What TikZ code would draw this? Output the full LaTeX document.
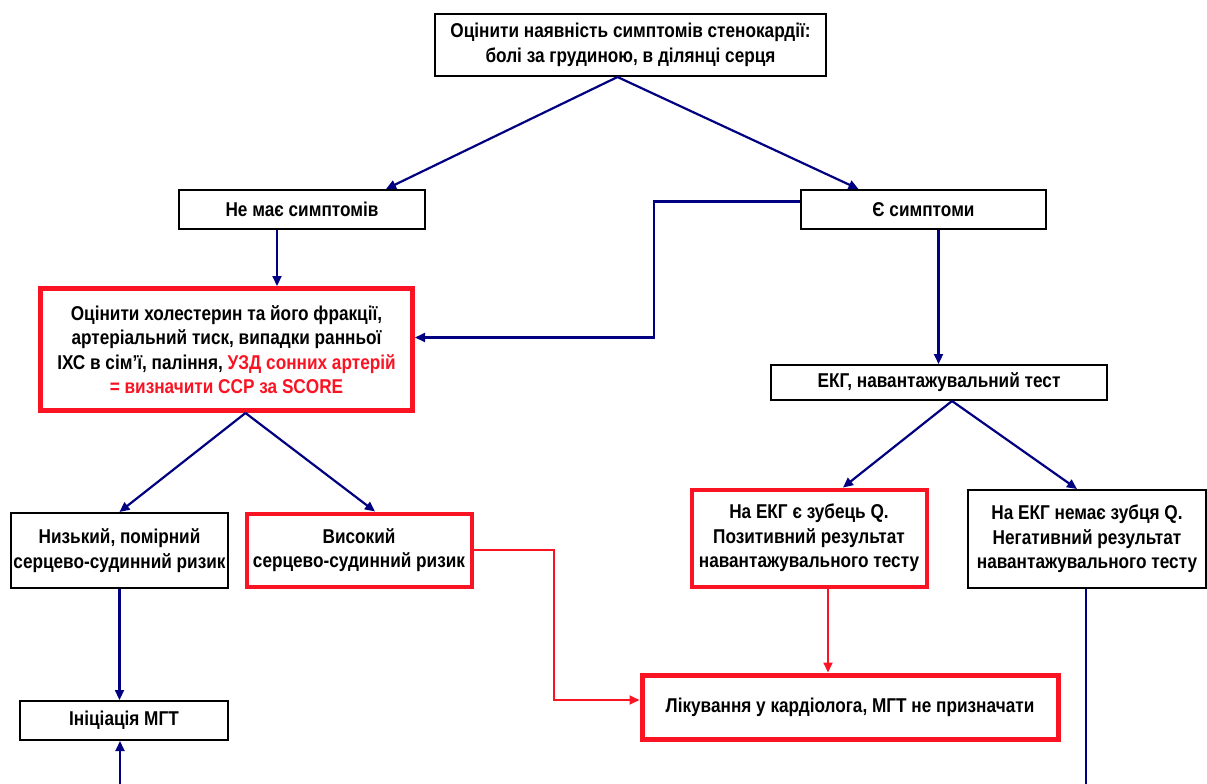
\documentclass[tikz,border=0pt]{standalone}
\usepackage{fontspec}
\setmainfont{Liberation Sans}[FakeStretch=0.86]
\usetikzlibrary{arrows.meta,calc}
\definecolor{navy}{RGB}{0,0,128}
\definecolor{myred}{RGB}{250,20,35}
\tikzset{
  box/.style={draw=black,line width=2pt,fill=white,align=center,inner sep=0pt,
    font=\fontsize{20}{24.5}\selectfont\bfseries},
  redbox/.style={box,draw=myred,line width=5pt},
  redbox2/.style={box,draw=myred,line width=4pt},
  arr/.style={draw=navy,line width=2.2pt,-{Triangle[length=10pt,width=9pt]}},
  ln/.style={draw=navy,line width=2.2pt},
  rarr/.style={draw=myred,line width=2pt,-{Triangle[length=10pt,width=9pt]}},
}
\begin{document}
\begin{tikzpicture}[x=1pt,y=-1pt]
\useasboundingbox (0,0) rectangle (1207,784);
\node[box,minimum width=391pt,minimum height=62pt] (top) at (630.5,45) {Оцінити наявність симптомів стенокардії:\\болі за грудиною, в ділянці серця};
\node[box,minimum width=246pt,minimum height=39pt] (no) at (302,209.5) {Не має симптомів};
\node[box,minimum width=245pt,minimum height=39pt] (sym) at (923.5,209.5) {Є симптоми};
\node[redbox,minimum width=372pt,minimum height=122pt] (risk) at (226.5,349.5) {Оцінити холестерин та його фракції,\\артеріальний тиск, випадки ранньої\\ІХС в сім’ї, паління, \textcolor{myred}{УЗД сонних артерій}\\\textcolor{myred}{= визначити ССР за SCORE}};
\node[box,minimum width=336pt,minimum height=35pt] (ekg) at (939,382.5) {ЕКГ, навантажувальний тест};
\node[box,minimum width=217pt,minimum height=75pt] (low) at (119.5,550.5) {Низький, помірний\\серцево-судинний ризик};
\node[redbox2,minimum width=225pt,minimum height=73pt] (high) at (359,550) {Високий\\серцево-судинний ризик};
\node[redbox2,minimum width=235pt,minimum height=97pt] (posq) at (809,538) {На ЕКГ є зубець Q.\\Позитивний результат\\навантажувального тесту};
\node[box,minimum width=238pt,minimum height=98pt] (negq) at (1087,539) {На ЕКГ немає зубця Q.\\Негативний результат\\навантажувального тесту};
\node[redbox,minimum width=416pt,minimum height=64pt] (treat) at (850,707) {Лікування у кардіолога, МГТ не призначати};
\node[box,minimum width=208pt,minimum height=39pt] (init) at (124,720.5) {Ініціація МГТ};
\coordinate (bl) at (120,784);
\coordinate (br) at (1086,784);
% connectors
\draw[arr] ([xshift=-13pt]top.south) -- ([xshift=84pt]no.north);
\draw[arr] ([xshift=-13pt]top.south) -- ([xshift=-65pt]sym.north);
\draw[arr] ([xshift=-25pt]no.south) -- ([xshift=-25pt]no.south |- risk.north);
\draw[arr] ([yshift=8pt]sym.west) -- ++(-146pt,0) |- ([yshift=12pt]risk.east);
\draw[arr] ([xshift=15pt]sym.south) -- ([xshift=15pt]sym.south |- ekg.north);
\draw[arr] ([xshift=19pt]risk.south) -- (low.north);
\draw[arr] ([xshift=19pt]risk.south) -- ([xshift=16pt]high.north);
\draw[arr] ([xshift=13pt]ekg.south) -- ([xshift=34pt]posq.north);
\draw[arr] ([xshift=13pt]ekg.south) -- ([xshift=-10pt]negq.north);
\draw[arr] (low.south) -- (low.south |- init.north);
\draw[arr] (bl) -- (bl |- init.south);
\draw[ln] ([xshift=-1pt]negq.south) -- (br);
\draw[rarr] (high.east) -- ++(80pt,0) |- ([yshift=7pt]treat.west);
\draw[rarr] ([xshift=19pt]posq.south) -- ([xshift=19pt]posq.south |- treat.north);
\end{tikzpicture}
\end{document}
